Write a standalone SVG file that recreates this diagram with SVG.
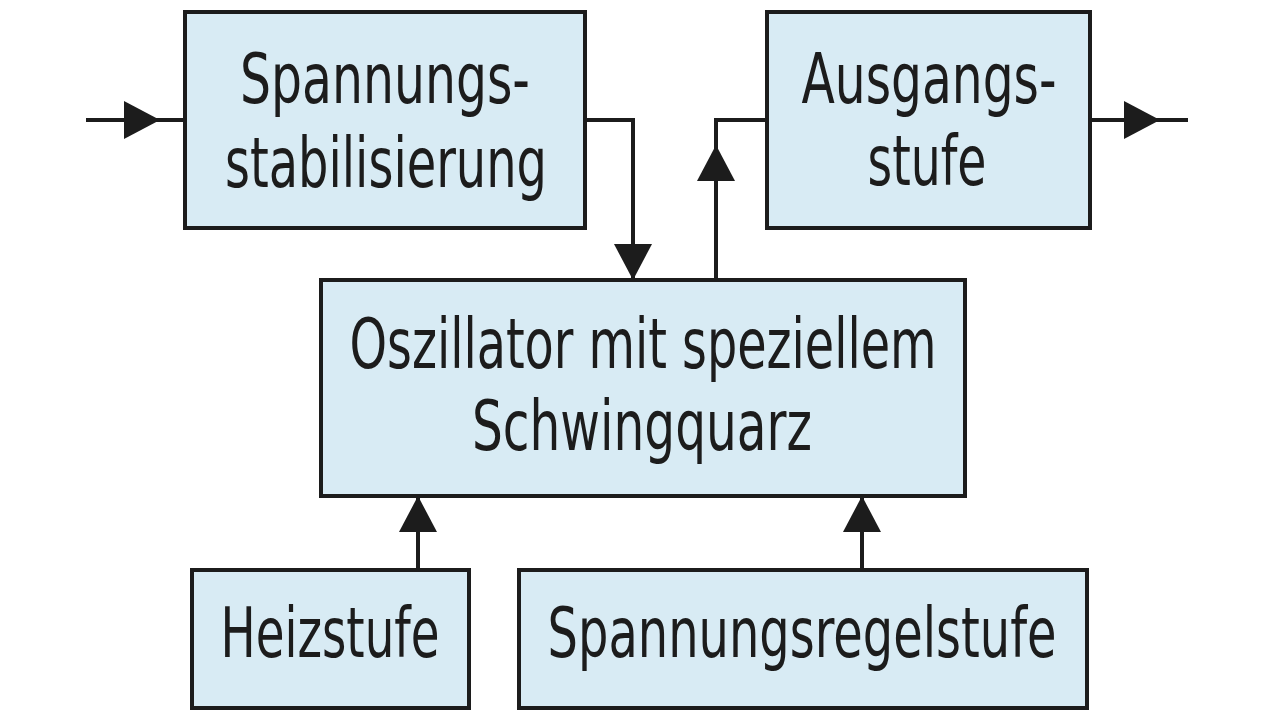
<svg xmlns="http://www.w3.org/2000/svg" width="1280" height="719" viewBox="0 0 1280 719">
<defs>
<style>
.box{fill:#d8ebf4;stroke:#1c1c1c;stroke-width:4}
.lbl{font-family:"Liberation Sans Narrow","DejaVu Sans Condensed","Liberation Sans",sans-serif;font-stretch:condensed;font-size:70px;fill:#1c1c1c;text-anchor:middle}
.wire{fill:none;stroke:#1c1c1c;stroke-width:4}
</style>
<marker id="ah" viewBox="0 0 36 38" refX="36" refY="19" markerWidth="36" markerHeight="38" markerUnits="userSpaceOnUse" orient="auto">
<path d="M0,0 L36,19 L0,38 Z" fill="#1c1c1c"/>
</marker>
</defs>
<rect width="1280" height="719" fill="#ffffff"/>
<g id="connectors">
<path class="wire" d="M86,120 H185"/>
<path class="wire" d="M86,120 H160" marker-end="url(#ah)"/>
<path class="wire" d="M585,120 H633 V280" marker-end="url(#ah)"/>
<path class="wire" d="M716,280 V120 H767"/>
<path class="wire" d="M716,280 V145" marker-end="url(#ah)"/>
<path class="wire" d="M1090,120 H1188"/>
<path class="wire" d="M1090,120 H1160" marker-end="url(#ah)"/>
<path class="wire" d="M418,570 V496" marker-end="url(#ah)"/>
<path class="wire" d="M862,570 V496" marker-end="url(#ah)"/>
</g>
<g id="spannungsstabilisierung">
<rect class="box" x="185" y="12" width="400" height="216"/>
<text class="lbl" x="385" y="103" textLength="290" lengthAdjust="spacingAndGlyphs">Spannungs-</text>
<text class="lbl" x="386" y="187" textLength="322" lengthAdjust="spacingAndGlyphs">stabilisierung</text>
</g>
<g id="ausgangsstufe">
<rect class="box" x="767" y="12" width="323" height="216"/>
<text class="lbl" x="929" y="103" textLength="255" lengthAdjust="spacingAndGlyphs">Ausgangs-</text>
<text class="lbl" x="927" y="185" textLength="119" lengthAdjust="spacingAndGlyphs">stufe</text>
</g>
<g id="oszillator">
<rect class="box" x="321" y="280" width="644" height="216"/>
<text class="lbl" x="643" y="368" textLength="587" lengthAdjust="spacingAndGlyphs">Oszillator mit speziellem</text>
<text class="lbl" x="642" y="450" textLength="340" lengthAdjust="spacingAndGlyphs">Schwingquarz</text>
</g>
<g id="heizstufe">
<rect class="box" x="192" y="570" width="277" height="138"/>
<text class="lbl" x="330" y="657" textLength="219" lengthAdjust="spacingAndGlyphs">Heizstufe</text>
</g>
<g id="spannungsregelstufe">
<rect class="box" x="519" y="570" width="568" height="138"/>
<text class="lbl" x="802" y="657" textLength="509" lengthAdjust="spacingAndGlyphs">Spannungsregelstufe</text>
</g>
</svg>
